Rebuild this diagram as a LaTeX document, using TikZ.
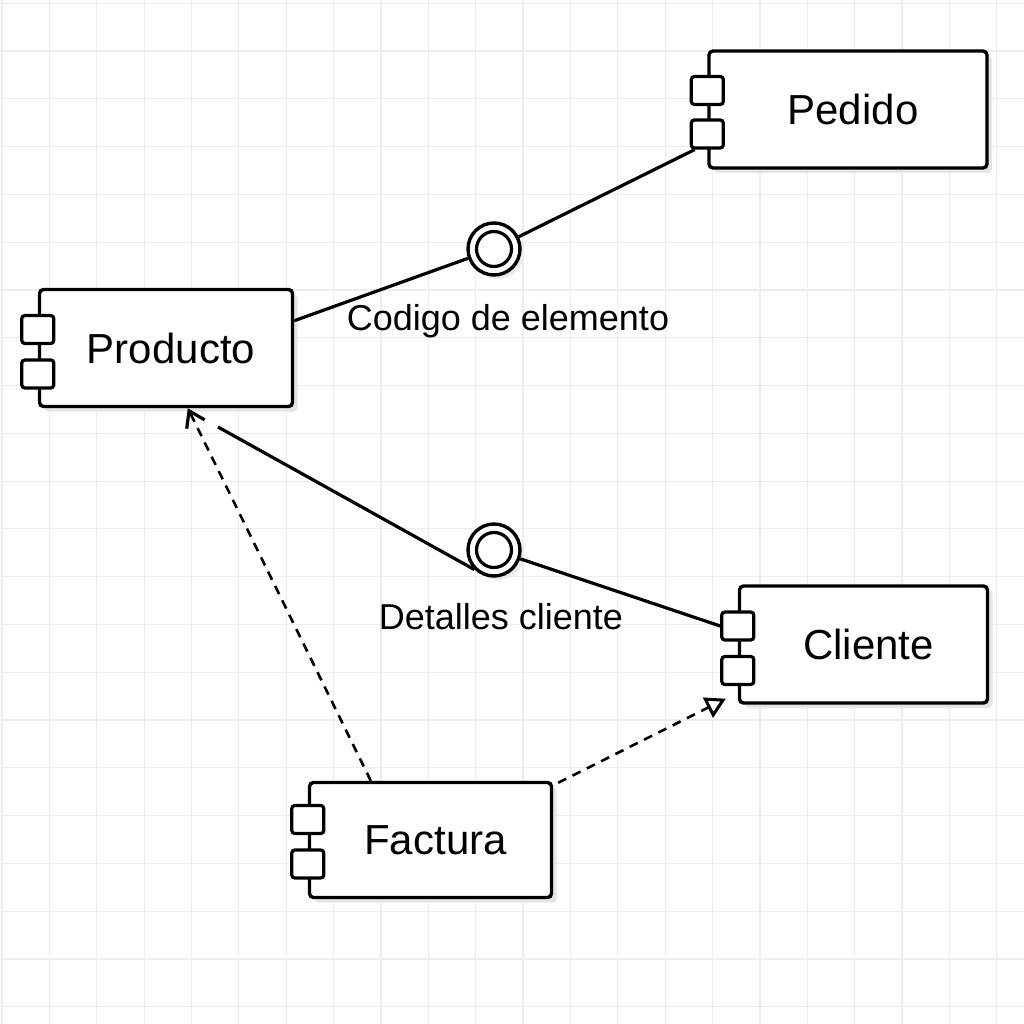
\documentclass[tikz,border=0pt]{standalone}
\usepackage{fontspec}
\setmainfont{Liberation Sans}
\usetikzlibrary{arrows.meta,calc,shadows}
\begin{document}
\begin{tikzpicture}[x=1pt,y=-1pt,
  gridline/.style={draw=black!7,line width=1.2pt},
  compbox/.style={draw,line width=3.4pt,rounded corners=4pt,fill=white,inner sep=0pt,
    font=\fontsize{42}{48}\selectfont,
    drop shadow={fill=black!10,shadow xshift=5pt,shadow yshift=-5pt,opacity=1}},
  iconbox/.style={draw,line width=3.2pt,rounded corners=3pt,fill=white,inner sep=0pt,
    minimum width=32pt,minimum height=28pt},
  lolli/.style={circle,draw,line width=3.4pt,fill=white,inner sep=0pt,minimum size=52pt},
  lolliin/.style={circle,draw,line width=3.2pt,inner sep=0pt,minimum size=35pt},
  conn/.style={line width=3.2pt},
  dep/.style={line width=2.6pt,dash pattern=on 9pt off 7pt},
  lbl/.style={font=\fontsize{36}{42}\selectfont,inner sep=0pt}]
\useasboundingbox (0,0) rectangle (1024,1024);
\fill[white] (0,0) rectangle (1024,1024);
% grid
\foreach \i in {0,...,21} {
  \draw[gridline] (2+47.37*\i,0) -- (2+47.37*\i,1024);
  \draw[gridline] (0,3.3+47.78*\i) -- (1024,3.3+47.78*\i);
}
% components
\node[compbox,minimum width=278pt,minimum height=117pt] (ped) at (848,109.5) {\hspace{10pt}Pedido};
\node[iconbox] (pedi1) at ($(ped.west)+(0,-19)$) {};
\node[iconbox] (pedi2) at ($(ped.west)+(0,24.5)$) {};

\node[compbox,minimum width=253pt,minimum height=117pt] (prod) at (166,348) {\hspace{10pt}Producto};
\node[iconbox] (prodi1) at ($(prod.west)+(0,-18.5)$) {};
\node[iconbox] (prodi2) at ($(prod.west)+(0,26)$) {};

\node[compbox,minimum width=248pt,minimum height=117pt] (cli) at (863.5,644.5) {\hspace{10pt}Cliente};
\node[iconbox] (clii1) at ($(cli.west)+(0,-18.5)$) {};
\node[iconbox] (clii2) at ($(cli.west)+(0,26)$) {};

\node[compbox,minimum width=242pt,minimum height=115pt] (fac) at (430.5,840) {\hspace{10pt}Factura};
\node[iconbox] (faci1) at ($(fac.west)+(0,-20.5)$) {};
\node[iconbox] (faci2) at ($(fac.west)+(0,24)$) {};

% lollipops
\node[lolli,drop shadow={fill=black!8,shadow xshift=4pt,shadow yshift=-4pt,opacity=1}] (c1) at (494,249) {};
\node[lolliin] (c1i) at (c1.center) {};
\node[lolli,drop shadow={fill=black!8,shadow xshift=4pt,shadow yshift=-4pt,opacity=1}] (c2) at (494,550) {};
\node[lolliin] (c2i) at (c2.center) {};

% solid connectors
\draw[conn] (prod.12) -- (c1);
\draw[conn] (c1) -- ($(pedi2.south west)+(5,0)$);
\coordinate (p2) at (218,427);
\draw[conn] (p2) -- (c2.225);
\draw[conn] (c2) -- (clii1.west);

% labels
\node[lbl] (l1) at (508,321) {Codigo de elemento};
\node[lbl] (l2) at (501,617) {Detalles cliente};

% dependencies
\draw[dep,-{Straight Barb[length=15pt,width=20pt,line width=3.2pt]}]
  ($(fac.north west)+(63,0)$) -- ($(prod.south west)+(150,0)$);
\draw[dep,-{Triangle[open,length=20pt,width=22pt,line width=3pt,fill=white]}]
  ($(fac.north east)+(5,2)$) -- ($(cli.south west)+(-12,-6)$);
\end{tikzpicture}
\end{document}
